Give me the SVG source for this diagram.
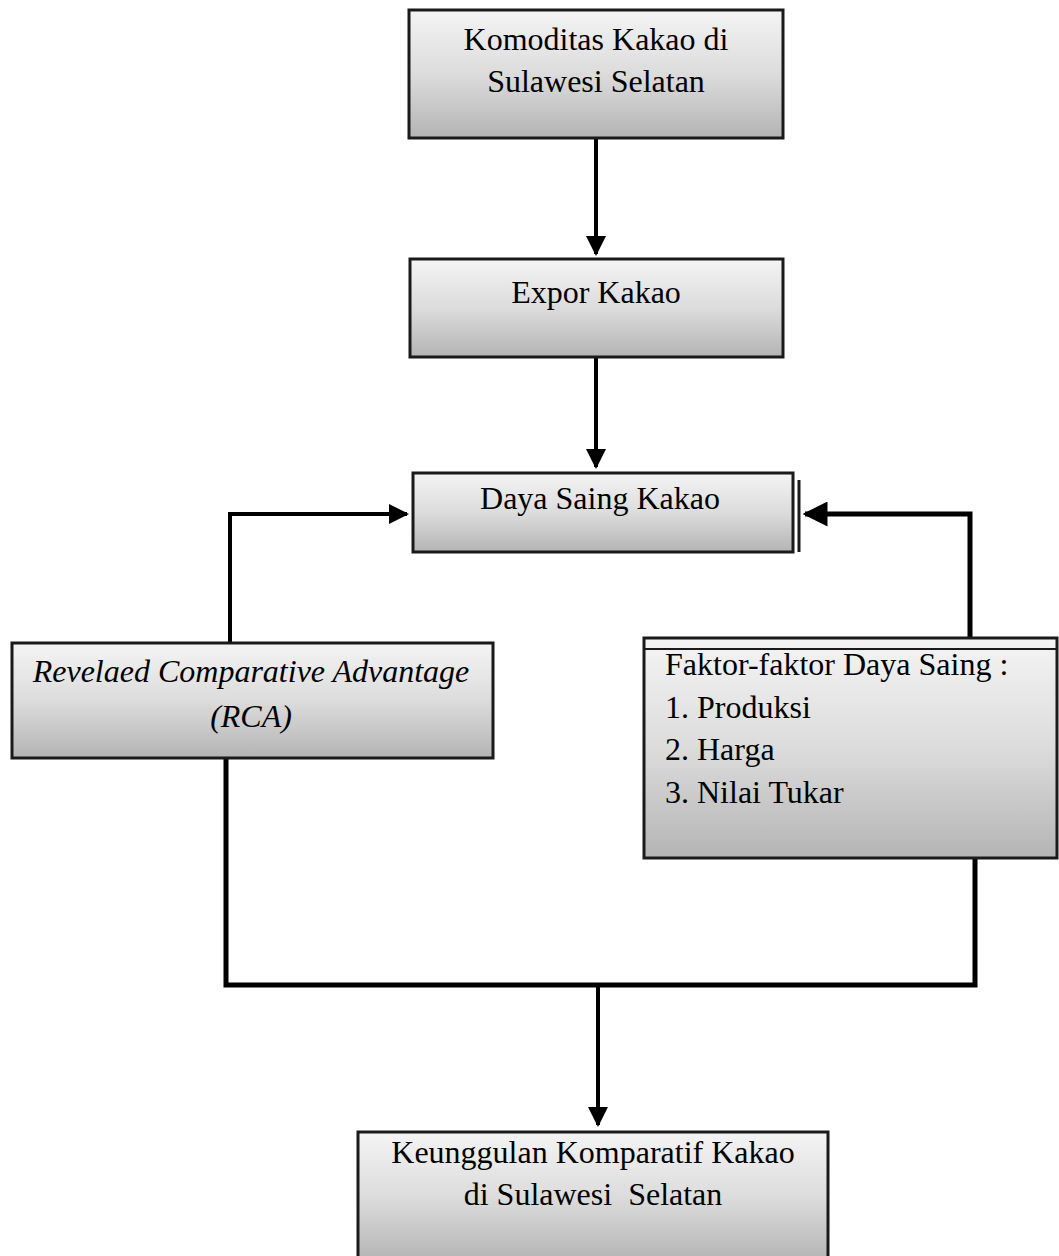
<svg xmlns="http://www.w3.org/2000/svg" width="1059" height="1256" viewBox="0 0 1059 1256">
<defs>
<linearGradient id="g" x1="0" y1="0" x2="0" y2="1">
<stop offset="0" stop-color="#f4f4f4"/>
<stop offset="0.5" stop-color="#dcdcdc"/>
<stop offset="1" stop-color="#b4b4b4"/>
</linearGradient>
<marker id="ah" viewBox="0 0 10 10" refX="9" refY="5" markerWidth="5" markerHeight="5" orient="auto" markerUnits="strokeWidth">
<path d="M0,0 L10,5 L0,10 z" fill="#000"/>
</marker>
</defs>
<style>
.box{fill:url(#g);stroke:#1a1a1a;stroke-width:3}
.t{font-family:"Liberation Serif","Times New Roman",serif;font-size:32px;fill:#000;white-space:pre}
.c{stroke:#000;stroke-width:4;fill:none}
.c5{stroke:#000;stroke-width:5;fill:none}
</style>
<rect width="1059" height="1256" fill="#fff"/>
<g id="connectors">
<path class="c" d="M596,139 V254" marker-end="url(#ah)"/>
<path class="c" d="M596,358 V467" marker-end="url(#ah)"/>
<path class="c" d="M230,643 V514 H407" marker-end="url(#ah)"/>
<path class="c5" d="M970,637 V514 H805" marker-end="url(#ah)"/>
<path class="c5" d="M226,758 V985 H975 V858"/>
<path class="c" d="M598,985 V1125" marker-end="url(#ah)"/>
</g>
<g id="n1">
<rect class="box" x="409" y="10" width="374" height="128"/>
<text class="t" x="596" y="50" text-anchor="middle">Komoditas Kakao di</text>
<text class="t" x="596" y="92" text-anchor="middle">Sulawesi Selatan</text>
</g>
<g id="n2">
<rect class="box" x="410" y="259" width="373" height="98"/>
<text class="t" x="596" y="303" text-anchor="middle">Expor Kakao</text>
</g>
<g id="n3">
<rect class="box" x="413" y="473" width="380" height="79"/>
<line x1="799" y1="480" x2="799" y2="552" stroke="#1a1a1a" stroke-width="3"/>
<text class="t" x="600" y="509" text-anchor="middle">Daya Saing Kakao</text>
</g>
<g id="n4">
<rect class="box" x="12" y="643" width="481" height="115"/>
<text class="t" x="251" y="682" text-anchor="middle" font-style="italic">Revelaed Comparative Advantage</text>
<text class="t" x="251" y="727" text-anchor="middle" font-style="italic">(RCA)</text>
</g>
<g id="n5">
<rect class="box" x="644" y="638" width="413" height="220"/>
<line x1="644" y1="649" x2="1057" y2="649" stroke="#1a1a1a" stroke-width="2"/>
<text class="t" x="665" y="675">Faktor-faktor Daya Saing :</text>
<text class="t" x="665" y="718">1. Produksi</text>
<text class="t" x="665" y="760">2. Harga</text>
<text class="t" x="665" y="803">3. Nilai Tukar</text>
</g>
<g id="n6">
<rect class="box" x="358" y="1132" width="470" height="130"/>
<text class="t" x="593" y="1163" text-anchor="middle">Keunggulan Komparatif Kakao</text>
<text class="t" x="593" y="1205" text-anchor="middle">di Sulawesi  Selatan</text>
</g>
</svg>
